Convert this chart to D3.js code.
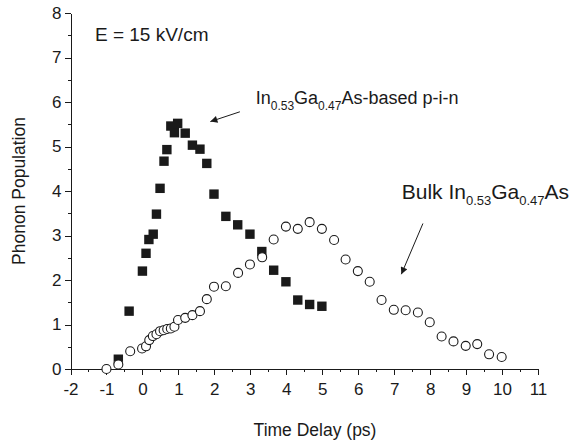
<!DOCTYPE html>
<html>
<head>
<meta charset="utf-8">
<script src="https://cdn.jsdelivr.net/npm/d3@7"></script>
<style>
	body { margin: 0; background: #fff; }
	svg { display: block; }
	text { font-family: "Liberation Sans", Arial, sans-serif; fill: #1a1a1a; }
	.axis path, .axis line { stroke: #1a1a1a; stroke-width: 1; shape-rendering: crispEdges; }
</style>
</head>
<body>
<div id="chart-area"></div>
<script>

// DATA

// In0.53Ga0.47As-based p-i-n (filled squares)
let pinDelay = [-0.67, -0.37, 0, 0.1, 0.18, 0.3, 0.39, 0.49, 0.6, 0.68, 0.79, 0.89, 0.98,
	1.19, 1.39, 1.6, 1.79, 1.99, 2.32, 2.65, 2.99, 3.32, 3.65, 3.99, 4.32, 4.65, 4.99];
let pinPopulation = [0.22, 1.30, 2.2, 2.6, 2.91, 3.03, 3.48, 4.06, 4.67, 4.93, 5.46, 5.31, 5.52,
	5.30, 5.03, 4.94, 4.62, 3.93, 3.43, 3.24, 3.03, 2.64, 2.22, 1.96, 1.55, 1.45, 1.41];

// Bulk In0.53Ga0.47As (open circles)
let bulkDelay = [-1, -0.67, -0.34, -0.01, 0.1, 0.19, 0.29, 0.39, 0.49, 0.59, 0.69, 0.79, 0.89, 0.99,
	1.19, 1.39, 1.6, 1.79, 1.99, 2.32, 2.66, 2.99, 3.33, 3.65, 3.99, 4.32, 4.65, 4.99, 5.33, 5.65,
	5.99, 6.32, 6.65, 6.99, 7.32, 7.66, 7.99, 8.32, 8.65, 8.99, 9.31, 9.64, 9.99];
let bulkPopulation = [0, 0.1, 0.40, 0.46, 0.51, 0.65, 0.74, 0.78, 0.85, 0.87, 0.90, 0.91, 0.95, 1.10,
	1.15, 1.21, 1.30, 1.57, 1.85, 1.86, 2.16, 2.35, 2.51, 2.91, 3.20, 3.15, 3.30, 3.15, 2.90, 2.46,
	2.20, 1.96, 1.55, 1.33, 1.32, 1.27, 1.05, 0.73, 0.62, 0.52, 0.56, 0.33, 0.27];

let xTicks = d3.range(-2, 12, 1);
let yTicks = d3.range(0, 9, 1);


// CHART AREA

let margin = {top: 13, right: 39, bottom: 79, left: 70.5},
	width = 577 - margin.left - margin.right,
	height = 448 - margin.top - margin.bottom;

let svg = d3.select("#chart-area").append("svg")
	.attr("width", 577)
	.attr("height", 448)
	.append("g")
	.attr("transform", "translate(" + margin.left + "," + margin.top + ")");

let xScale = d3.scaleLinear().domain([-2, 11]).range([0, width]);
let yScale = d3.scaleLinear().domain([0, 8]).range([height, 0]);


// AXIS

// minor ticks at the half units
svg.append("g")
	.attr("class", "axis")
	.attr("transform", "translate(0," + height + ")")
	.call(d3.axisBottom(xScale).tickValues(d3.range(-1.5, 11, 1)).tickSize(3).tickFormat(""))
	.select(".domain").remove();

svg.append("g")
	.attr("class", "axis")
	.call(d3.axisLeft(yScale).tickValues(d3.range(0.5, 8, 1)).tickSize(3).tickFormat(""))
	.select(".domain").remove();

// plain hyphen for negatives, like the original
let xAxisGroup = svg.append("g")
	.attr("class", "x-axis axis")
	.attr("transform", "translate(0," + height + ")")
	.call(d3.axisBottom(xScale).tickValues(xTicks).tickFormat(d => String(d))
		.tickSize(6).tickSizeOuter(0).tickPadding(8));

xAxisGroup.selectAll("text").style("font-size", "17px");

let yAxisGroup = svg.append("g")
	.attr("class", "y-axis axis")
	.call(d3.axisLeft(yScale).tickValues(yTicks).tickFormat(d => String(d))
		.tickSize(6).tickSizeOuter(0).tickPadding(3));

yAxisGroup.selectAll("text").style("font-size", "17px");

svg.append("text")
	.attr("x", xScale(4.8))
	.attr("y", height + 67)
	.style("text-anchor", "middle")
	.style("font-size", "17.5px")
	.text("Time Delay (ps)");

svg.append("text")
	.attr("transform", "translate(" + (25 - margin.left) + "," + yScale(4) + ") rotate(-90)")
	.style("text-anchor", "middle")
	.style("font-size", "17.5px")
	.text("Phonon Population");


// ---- DRAW MARKERS ----

let pinData = pinDelay.map((d, i) => ({x: d, y: pinPopulation[i]}));
let bulkData = bulkDelay.map((d, i) => ({x: d, y: bulkPopulation[i]}));

svg.selectAll(".pin")
	.data(pinData)
	.enter()
	.append("rect")
	.attr("class", "pin")
	.attr("x", d => xScale(d.x) - 4.7)
	.attr("y", d => yScale(d.y) - 4.7)
	.attr("width", 9.4)
	.attr("height", 9.4)
	.attr("fill", "#1a1a1a");

svg.selectAll(".bulk")
	.data(bulkData)
	.enter()
	.append("circle")
	.attr("class", "bulk")
	.attr("cx", d => xScale(d.x))
	.attr("cy", d => yScale(d.y))
	.attr("r", 4.5)
	.attr("fill", "#fff")
	.attr("stroke", "#1a1a1a")
	.attr("stroke-width", 1.1);


// ---- ANNOTATIONS ----

svg.append("defs").append("marker")
	.attr("id", "head")
	.attr("viewBox", "0 0 10 10")
	.attr("refX", 10)
	.attr("refY", 5)
	.attr("markerWidth", 11)
	.attr("markerHeight", 7)
	.attr("markerUnits", "userSpaceOnUse")
	.attr("orient", "auto")
	.append("path")
	.attr("d", "M0,0 L10,5 L0,10 Z")
	.attr("fill", "#1a1a1a");

let arrows = [
	{x1: 2.71, y1: 5.78, x2: 1.89, y2: 5.56},
	{x1: 7.8, y1: 3.27, x2: 7.2, y2: 2.13}
];

svg.selectAll(".arrow")
	.data(arrows)
	.enter()
	.append("line")
	.attr("class", "arrow")
	.attr("x1", d => xScale(d.x1))
	.attr("y1", d => yScale(d.y1))
	.attr("x2", d => xScale(d.x2))
	.attr("y2", d => yScale(d.y2))
	.attr("stroke", "#1a1a1a")
	.attr("stroke-width", 1)
	.attr("marker-end", "url(#head)");

svg.append("text")
	.attr("x", xScale(-1.32))
	.attr("y", yScale(7.37))
	.style("font-size", "19px")
	.text("E = 15 kV/cm");

function formulaLabel(x, y, size, subSize, parts) {
	let t = svg.append("text")
		.attr("x", xScale(x))
		.attr("y", yScale(y))
		.style("font-size", size + "px");
	parts.forEach(p => {
		t.append("tspan")
			.attr("dy", p.sub ? 6 : (p.back ? -6 : 0))
			.style("font-size", (p.sub ? subSize : size) + "px")
			.text(p.t);
	});
}

formulaLabel(3.15, 5.96, 18, 12, [
	{t: "In"}, {t: "0.53", sub: true}, {t: "Ga", back: true}, {t: "0.47", sub: true}, {t: "As-based p-i-n", back: true}
]);

formulaLabel(7.21, 3.81, 21, 13, [
	{t: "Bulk In"}, {t: "0.53", sub: true}, {t: "Ga", back: true}, {t: "0.47", sub: true}, {t: "As", back: true}
]);

</script>
</body>
</html>
